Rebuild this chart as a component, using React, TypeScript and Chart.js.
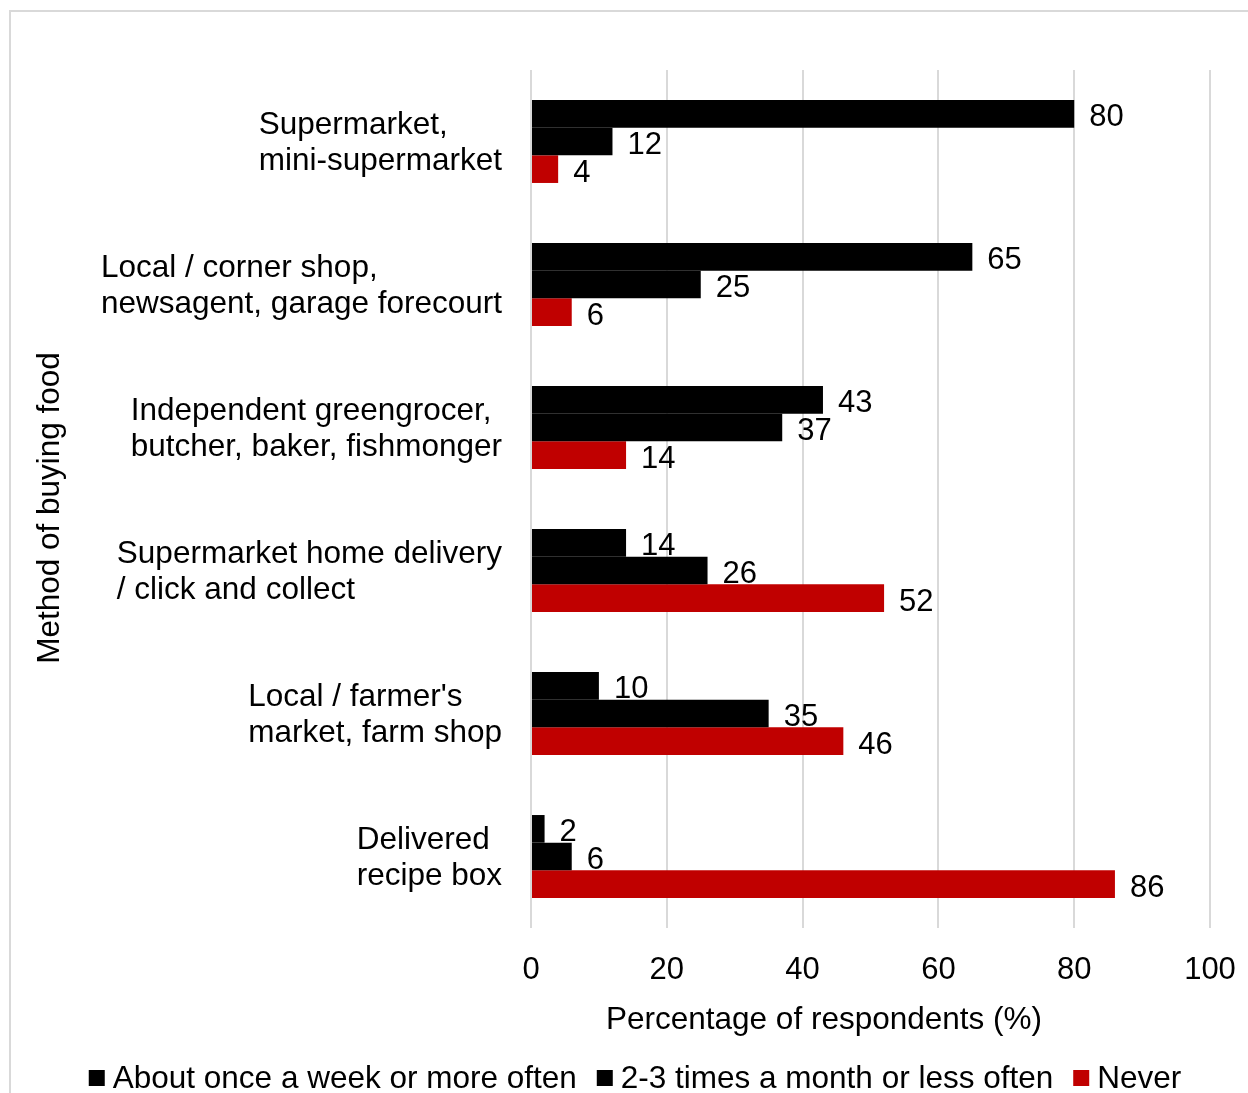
import { useEffect, useRef } from 'react';
import { Chart, registerables } from 'chart.js';

Chart.register(...registerables);

const categories: string[][] = [
  ['Supermarket,', 'mini-supermarket'],
  ['Local / corner shop,', 'newsagent, garage forecourt'],
  ['Independent greengrocer,', 'butcher, baker, fishmonger'],
  ['Supermarket home delivery', '/ click and collect'],
  ["Local / farmer's", 'market, farm shop'],
  ['Delivered', 'recipe box'],
];
const seriesNames = ['About once a week or more often', '2-3 times a month or less often', 'Never'];
const weekly = [80, 65, 43, 14, 10, 2];
const monthly = [12, 25, 37, 26, 35, 6];
const never = [4, 6, 14, 52, 46, 86];
const seriesColors = ['#000000', '#000000', '#C00000'];
const xTicks = [0, 20, 40, 60, 80, 100];
const xTitle = 'Percentage of respondents (%)';
const yTitle = 'Method of buying food';

const FONT = "'Liberation Sans', Arial, sans-serif";
const W = 1248;
const H = 1093;

export default function App() {
  const ref = useRef<HTMLCanvasElement | null>(null);

  useEffect(() => {
    document.body.style.margin = '0';
    const canvas = ref.current;
    if (!canvas) return;

    const framePlugin = {
      id: 'frame',
      beforeDraw(chart: any) {
        const ctx = chart.ctx;
        ctx.save();
        ctx.fillStyle = '#ffffff';
        ctx.fillRect(0, 0, W, H);
        ctx.strokeStyle = '#d9d9d9';
        ctx.lineWidth = 2;
        ctx.beginPath();
        ctx.moveTo(10, H);
        ctx.lineTo(10, 11);
        ctx.lineTo(W, 11);
        ctx.stroke();
        ctx.restore();
      },
    };

    const labelsPlugin = {
      id: 'customLabels',
      afterDatasetsDraw(chart: any) {
        const ctx = chart.ctx;
        ctx.save();
        // value labels
        ctx.font = `31px ${FONT}`;
        ctx.fillStyle = '#000000';
        ctx.textAlign = 'left';
        ctx.textBaseline = 'middle';
        chart.data.datasets.forEach((ds: any, di: number) => {
          const meta = chart.getDatasetMeta(di);
          meta.data.forEach((bar: any, i: number) => {
            ctx.fillText(String(ds.data[i]), bar.x + 15, bar.y + 4);
          });
        });
        // category labels (left-aligned blocks)
        const yScale = chart.scales.y;
        ctx.font = `31.5px ${FONT}`;
        categories.forEach((lines, i) => {
          const cy = yScale.getPixelForValue(i);
          const maxW = Math.max(...lines.map((l) => ctx.measureText(l).width));
          const left = 502 - maxW;
          const lh = 36;
          const startY = cy + 2 - ((lines.length - 1) * lh) / 2;
          lines.forEach((l, j) => ctx.fillText(l, left, startY + j * lh));
        });
        // axis titles
        ctx.textAlign = 'center';
        ctx.fillText(xTitle, 824, 1020);
        ctx.save();
        ctx.translate(50, 508);
        ctx.rotate(-Math.PI / 2);
        ctx.fillText(yTitle, 0, 0);
        ctx.restore();
        // legend
        ctx.textAlign = 'left';
        const box = 16;
        const gapBT = 8;
        const gapItem = 20;
        const widths = seriesNames.map((n) => ctx.measureText(n).width);
        const total = widths.reduce((a, w) => a + box + gapBT + w, 0) + gapItem * (seriesNames.length - 1);
        let x = 635 - total / 2;
        const ly = 1078;
        seriesNames.forEach((n, k) => {
          ctx.fillStyle = seriesColors[k];
          ctx.fillRect(x, ly - box / 2, box, box);
          ctx.fillStyle = '#000000';
          ctx.fillText(n, x + box + gapBT, ly + 1);
          x += box + gapBT + widths[k] + gapItem;
        });
        ctx.restore();
      },
    };

    const chart = new Chart(canvas, {
      type: 'bar',
      data: {
        labels: categories.map((c) => c.join(' ')),
        datasets: [
          { label: seriesNames[0], data: weekly, backgroundColor: seriesColors[0] },
          { label: seriesNames[1], data: monthly, backgroundColor: seriesColors[1] },
          { label: seriesNames[2], data: never, backgroundColor: seriesColors[2] },
        ],
      },
      options: {
        indexAxis: 'y',
        responsive: false,
        animation: false,
        devicePixelRatio: 1,
        datasets: { bar: { categoryPercentage: 0.58, barPercentage: 1 } },
        layout: { padding: { left: 0, top: 70, right: 38, bottom: 55 } },
        plugins: {
          legend: { display: false },
          tooltip: { enabled: false },
        },
        scales: {
          x: {
            min: 0,
            max: 100,
            afterBuildTicks: (s: any) => {
              s.ticks = xTicks.map((v) => ({ value: v }));
            },
            ticks: {
              font: { family: FONT, size: 31 },
              color: '#000000',
              padding: 24,
              maxRotation: 0,
            },
            grid: { color: '#d9d9d9', lineWidth: 2, drawTicks: false },
            border: { display: false },
            title: { display: false },
            afterFit: (s: any) => {
              s.height = 110;
              s.paddingLeft = 0;
              s.paddingRight = 0;
            },
          },
          y: {
            ticks: { display: false },
            grid: { display: false },
            border: { display: false },
            title: { display: false },
            afterFit: (s: any) => {
              s.width = 531;
              s.paddingTop = 0;
              s.paddingBottom = 0;
            },
          },
        },
      },
      plugins: [framePlugin, labelsPlugin],
    } as any);

    return () => chart.destroy();
  }, []);

  return <canvas ref={ref} width={W} height={H} style={{ display: 'block', width: W, height: H }} />;
}
